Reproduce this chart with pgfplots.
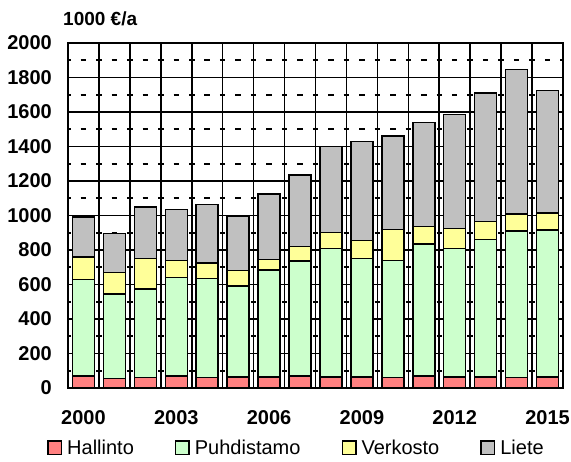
\documentclass[border=0pt]{standalone}
\usepackage{fontspec}
\setmainfont{Liberation Sans}
\usepackage{pgfplots}
\usepackage{pgfplotstable}
\pgfplotsset{compat=1.18}

\definecolor{hallinto}{HTML}{FF8080}
\definecolor{puhdistamo}{HTML}{CCFFCC}
\definecolor{verkosto}{HTML}{FFFF99}
\definecolor{liete}{HTML}{C0C0C0}

% 1000 EUR per year, years 2000-2015 at x = 0..15
\pgfplotstableread{
x  hal puh ver lie
0  70  560 130 230
1  55  490 125 225
2  60  515 175 300
3  70  570 100 295
4  60  575 90  340
5  65  525 90  315
6  65  620 60  380
7  70  665 85  415
8  65  745 90  500
9  65  685 105 575
10 60  680 180 540
11 70  765 100 605
12 65  745 115 660
13 65  795 105 745
14 60  850 100 835
15 65  850 100 710
}\kustannus

\newcommand\tickfont{\bfseries\fontsize{20bp}{24bp}\selectfont}

\pgfplotsset{
  laatikko/.style={
    fill=#1, draw=black, line width=1.5bp,
    legend image code/.code={%
      \draw[fill=#1, draw=black, line width=1.5bp] (0bp,-6.75bp) rectangle (13.5bp,6.75bp);},
  },
}

\begin{document}
\begin{tikzpicture}
\begin{axis}[
  name=ax,
  scale only axis,
  width=495bp, height=345bp,
  xmin=-0.5, xmax=15.5,
  ymin=0, ymax=2000,
  ybar stacked,
  bar width=22bp,
  xtick={0,3,6,9,12,15},
  xticklabels={2000,2003,2006,2009,2012,2015},
  minor xtick={0.5,1.5,2.5,3.5,4.5,5.5,6.5,7.5,8.5,9.5,10.5,11.5,12.5,13.5,14.5},
  ytick={0,200,...,2000},
  minor ytick={100,300,...,1900},
  xminorgrids=true,
  ymajorgrids=true,
  yminorgrids=true,
  major y grid style={black, line width=1.6bp},
  minor x grid style={black, line width=1.6bp},
  minor y grid style={black, line width=1.6bp,
    dash pattern=on 5.5bp off 9.969bp, dash phase=2.75bp},
  major tick length=0pt,
  minor tick length=0pt,
  tick style={draw=none},
  axis line style={black, line width=2.5bp},
  /pgf/number format/assume math mode=true,
  /pgf/number format/1000 sep={},
  ticklabel style={font=\tickfont},
  yticklabel style={anchor=east, inner sep=0pt, xshift=-16bp},
  xticklabel style={anchor=north, inner sep=0pt, yshift=-22bp},
  legend columns=4,
  legend style={
    at={(-0.0424,-0.173)}, anchor=west,
    draw=none, fill=none, inner sep=0pt,
    font=\fontsize{20bp}{24bp}\selectfont,
    nodes={inner sep=0pt},
    /tikz/every odd column/.append style={column sep=5bp},
    /tikz/every even column/.append style={column sep=41bp},
  },
]
\addplot[laatikko=hallinto] table[x=x, y=hal] {\kustannus};
\addplot[laatikko=puhdistamo] table[x=x, y=puh] {\kustannus};
\addplot[laatikko=verkosto] table[x=x, y=ver] {\kustannus};
\addplot[laatikko=liete] table[x=x, y=lie] {\kustannus};
\legend{Hallinto, Puhdistamo, Verkosto, Liete}
\end{axis}
\node[anchor=west, inner sep=0pt, font=\bfseries\fontsize{19bp}{22bp}\selectfont]
  at ([xshift=-5bp, yshift=24.5bp]ax.north west) {1000 €/a};
\path ([xshift=-68bp, yshift=-74bp]ax.south west) rectangle ([xshift=8bp, yshift=43bp]ax.north east);
\end{tikzpicture}
\end{document}
